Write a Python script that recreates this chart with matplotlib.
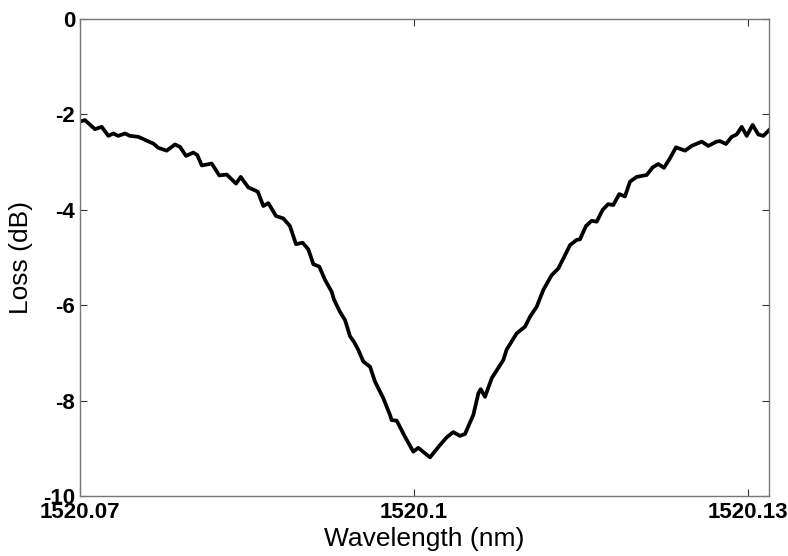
import matplotlib
matplotlib.use("Agg")
import matplotlib.pyplot as plt

# Transmission dip of the resonator, loss vs wavelength
wavelength = [
    1520.07004, 1520.07049, 1520.07139, 1520.07199, 1520.07259, 1520.07303,
    1520.07348, 1520.07408, 1520.07453, 1520.07528, 1520.07603, 1520.07662,
    1520.07707, 1520.07783, 1520.07857, 1520.07902, 1520.07956, 1520.08021,
    1520.08057, 1520.08097, 1520.08187, 1520.08255, 1520.08321, 1520.08405,
    1520.08447, 1520.08515, 1520.08600, 1520.08650, 1520.08695, 1520.08764,
    1520.08829, 1520.08889, 1520.08943, 1520.09003, 1520.09054, 1520.09099,
    1520.09152, 1520.09204, 1520.09264, 1520.09284, 1520.09338, 1520.09383,
    1520.09428, 1520.09464, 1520.09503, 1520.09547, 1520.09608, 1520.09652,
    1520.09727, 1520.09787, 1520.09802, 1520.09847, 1520.09922, 1520.09996,
    1520.10041, 1520.10146, 1520.10236, 1520.10296, 1520.10355, 1520.10415,
    1520.10460, 1520.10535, 1520.10580, 1520.10601, 1520.10640, 1520.10700,
    1520.10804, 1520.10834, 1520.10924, 1520.10999, 1520.11044, 1520.11104,
    1520.11163, 1520.11238, 1520.11298, 1520.11403, 1520.11463, 1520.11492,
    1520.11546, 1520.11597, 1520.11642, 1520.11696, 1520.11746, 1520.11791,
    1520.11845, 1520.11896, 1520.11941, 1520.12001, 1520.12091, 1520.12145,
    1520.12195, 1520.12246, 1520.12300, 1520.12354, 1520.12435, 1520.12495,
    1520.12585, 1520.12644, 1520.12719, 1520.12749, 1520.12803, 1520.12854,
    1520.12899, 1520.12944, 1520.12989, 1520.13042, 1520.13093, 1520.13138,
    1520.13189,
]
loss_db = [
    -2.15, -2.12, -2.31, -2.26, -2.45, -2.40,
    -2.45, -2.40, -2.45, -2.47, -2.55, -2.61,
    -2.70, -2.76, -2.63, -2.68, -2.87, -2.80,
    -2.85, -3.07, -3.03, -3.28, -3.26, -3.45,
    -3.31, -3.53, -3.62, -3.92, -3.86, -4.13,
    -4.18, -4.34, -4.72, -4.69, -4.83, -5.14,
    -5.19, -5.47, -5.72, -5.88, -6.14, -6.31,
    -6.65, -6.77, -6.94, -7.18, -7.29, -7.60,
    -7.95, -8.30, -8.41, -8.42, -8.76, -9.07,
    -8.99, -9.19, -8.93, -8.77, -8.66, -8.74,
    -8.70, -8.30, -7.85, -7.76, -7.92, -7.53,
    -7.15, -6.93, -6.59, -6.45, -6.24, -6.03,
    -5.68, -5.37, -5.23, -4.74, -4.63, -4.62,
    -4.34, -4.23, -4.25, -4.00, -3.88, -3.90,
    -3.67, -3.72, -3.41, -3.31, -3.27, -3.11,
    -3.04, -3.12, -2.92, -2.69, -2.76, -2.66,
    -2.57, -2.66, -2.57, -2.56, -2.62, -2.47,
    -2.42, -2.26, -2.45, -2.22, -2.42, -2.45,
    -2.33,
]

x_ticks = [1520.07, 1520.10, 1520.13]
x_tick_labels = ["1520.07", "1520.1", "1520.13"]
y_ticks = [0, -2, -4, -6, -8, -10]
y_tick_labels = ["0", "-2", "-4", "-6", "-8", "-10"]

plt.rcParams["font.family"] = ["Liberation Sans", "DejaVu Sans"]
plt.rcParams["axes.unicode_minus"] = False

fig = plt.figure(figsize=(7.88, 5.56), dpi=100)
ax = fig.add_axes([0.1009, 0.1079, 0.8750, 0.8579])

ax.plot(wavelength, loss_db, color="black", linewidth=2.7, solid_joinstyle="round")

ax.set_xlim(1520.07, 1520.13189)
ax.set_ylim(-10, 0)
ax.set_xticks(x_ticks)
ax.set_xticklabels(x_tick_labels, fontsize=16, fontweight="bold")
ax.set_yticks(y_ticks)
ax.set_yticklabels(y_tick_labels, fontsize=16, fontweight="bold")

ax.tick_params(direction="in", length=5, width=0.8, color="#333333",
               top=True, right=True, pad=3)
ax.tick_params(axis="x", pad=4)

for spine in ax.spines.values():
    spine.set_color("#777777")
    spine.set_linewidth(1.0)

ax.set_xlabel("Wavelength (nm)", fontsize=19, labelpad=3)
ax.set_ylabel("Loss (dB)", fontsize=19, labelpad=7)

fig.savefig("out.png", dpi=100, facecolor="white")
